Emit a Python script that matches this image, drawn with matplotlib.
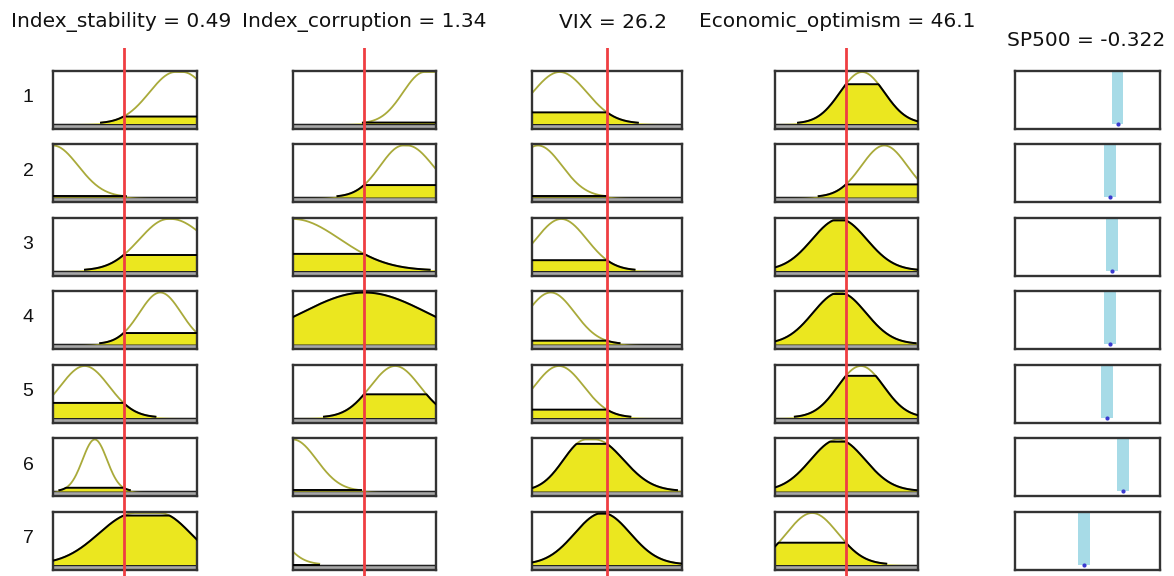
import numpy as np
import matplotlib.pyplot as plt

plt.rcParams["font.family"] = ["Liberation Sans", "DejaVu Sans"]

# Fuzzy inference rule view: 4 inputs, 1 Sugeno output, 7 rules
inputs = ["Index_stability", "Index_corruption", "VIX", "Economic_optimism"]
input_values = [0.49, 1.34, 26.2, 46.1]
input_ranges = [(0, 1), (0, 2.7), (0, 52.4), (0, 93)]

# gauss2mf parameters per rule: (sigma1, c1, sigma2, c2)
stability_mfs = [
    (0.18, 0.85, 0.18, 0.90),
    (0.175, 0.0, 0.175, 0.0),
    (0.20, 0.80, 0.25, 0.82),
    (0.145, 0.745, 0.145, 0.745),
    (0.17, 0.22, 0.17, 0.22),
    (0.085, 0.29, 0.085, 0.29),
    (0.25, 0.57, 0.215, 0.74),
]
corruption_mfs = [
    (0.405, 2.484, 0.405, 2.7),
    (0.432, 2.079, 0.486, 2.16),
    (0.891, 0.0, 0.891, 0.0),
    (1.188, 1.35, 1.188, 1.35),
    (0.467, 1.93, 0.467, 1.93),
    (0.446, 0.0, 0.446, 0.0),
    (0.405, -0.675, 0.405, -0.675),
]
vix_mfs = [
    (9.43, 9.69, 9.43, 9.69),
    (8.38, 2.1, 8.38, 2.1),
    (8.91, 10.22, 8.91, 10.22),
    (8.38, 6.55, 8.38, 6.55),
    (8.65, 9.43, 8.65, 9.43),
    (7.86, 18.86, 9.96, 22.0),
    (9.69, 24.63, 9.69, 24.63),
]
optimism_mfs = [
    (14.4, 56.7, 14.4, 56.7),
    (14.9, 71.1, 14.9, 71.1),
    (17.7, 41.9, 17.7, 41.9),
    (17.2, 41.9, 17.2, 41.9),
    (14.9, 55.8, 14.9, 55.8),
    (17.7, 40.9, 17.7, 40.9),
    (16.7, 24.2, 16.7, 24.2),
]
input_mfs = [stability_mfs, corruption_mfs, vix_mfs, optimism_mfs]

output_name = "SP500"
output_value = -0.322
output_range = (-1, 0)
rule_outputs = [-0.293, -0.344, -0.332, -0.344, -0.366, -0.257, -0.523]
rule_heights = [1, 1, 1, 1, 1, 1, 1]
rule_ids = [1, 2, 3, 4, 5, 6, 7]


def gauss2mf(x, s1, c1, s2, c2):
    left = np.where(x < c1, np.exp(-(x - c1) ** 2 / (2 * s1 ** 2)), 1.0)
    right = np.where(x > c2, np.exp(-(x - c2) ** 2 / (2 * s2 ** 2)), 1.0)
    return left * right


W, H = 1174, 576
fig = plt.figure(figsize=(W / 100, H / 100), dpi=100)

col_left = [53, 293, 532, 775, 1015]
col_right = [197, 436, 682, 918, 1160]
row_top = [70.5, 144, 217.5, 291, 364.5, 438, 511.5]
title_x = [121, 364, 613, 837, 1086]
panel_h = 58
y_lo, y_hi = -0.097, 1.029

MF_COLOR = "#a9aa3a"
FILL_COLOR = "#ebe71f"
FRAME_COLOR = "#333333"


def px_axes(l, t, r, b, **kw):
    return fig.add_axes([l / W, 1 - b / H, (r - l) / W, (b - t) / H], **kw)


def style_frame(ax):
    ax.set_xticks([])
    ax.set_yticks([])
    for sp in ax.spines.values():
        sp.set_color(FRAME_COLOR)
        sp.set_linewidth(1.7)


# Input membership panels
for j in range(4):
    lo, hi = input_ranges[j]
    x = np.linspace(lo, hi, 181)
    for i in range(7):
        ax = px_axes(col_left[j], row_top[i], col_right[j], row_top[i] + panel_h)
        mf = gauss2mf(x, *input_mfs[j][i])
        level = gauss2mf(np.array(input_values[j]), *input_mfs[j][i])
        clipped = np.minimum(mf, level)
        shown = mf > 0.015
        ax.axhspan(y_lo, 0, color="#a8a8a8", zorder=0)
        ax.axhline(0, color="#222222", lw=1.0, zorder=1)
        ax.fill_between(x, 0, clipped, color=FILL_COLOR, lw=0, zorder=1)
        ax.plot(x, np.where(shown, mf, np.nan), color=MF_COLOR, lw=1.3, zorder=2)
        ax.plot(x, np.where(shown, clipped, np.nan), color="black", lw=1.4, zorder=3)
        ax.set_xlim(lo, hi)
        ax.set_ylim(y_lo, y_hi)
        style_frame(ax)

# Output singletons
for i in range(7):
    ax = px_axes(col_left[4], row_top[i], col_right[4], row_top[i] + panel_h)
    ax.bar(rule_outputs[i], rule_heights[i], width=0.08, bottom=0,
           color="#a7dbe7", lw=0, zorder=1)
    ax.plot(rule_outputs[i], 0, "o", color="#3a3ad0", ms=2, zorder=2)
    ax.set_xlim(*output_range)
    ax.set_ylim(y_lo, y_hi)
    style_frame(ax)

# Input value markers across all rules
for j in range(4):
    ov = px_axes(col_left[j], 48, col_right[j], H, zorder=10)
    ov.patch.set_alpha(0)
    ov.axis("off")
    ov.set_xlim(*input_ranges[j])
    ov.set_ylim(0, 1)
    ov.axvline(input_values[j], color="#ef3e42", lw=2)

# Titles
for j in range(4):
    fig.text(title_x[j] / W, 1 - 22 / H, f"{inputs[j]} = {input_values[j]:g}",
             ha="center", va="center", fontsize=14.5, family="DejaVu Sans",
             color="#111111")
fig.text(title_x[4] / W, 1 - 40 / H, f"{output_name} = {output_value:g}",
         ha="center", va="center", fontsize=14.5, family="DejaVu Sans",
         color="#111111")

# Rule numbers
for i in range(7):
    fig.text(28 / W, 1 - (row_top[i] + panel_h / 2 - 2) / H, str(rule_ids[i]),
             ha="center", va="center", fontsize=14, color="#111111")

fig.savefig("out.png", dpi=100)
